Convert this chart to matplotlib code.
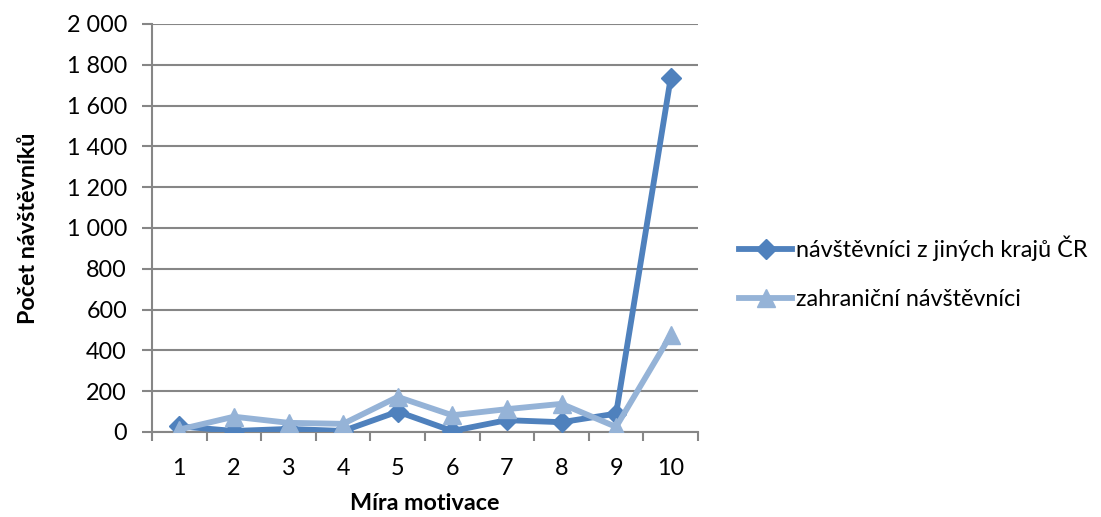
import numpy as np
import matplotlib
matplotlib.use('Agg')
import matplotlib.pyplot as plt
from matplotlib.ticker import FuncFormatter, FixedLocator

plt.rcParams['font.family'] = ['Lato', 'DejaVu Sans']

motivace = [1, 2, 3, 4, 5, 6, 7, 8, 9, 10]
z_jinych_kraju = [28, 5, 15, 5, 100, 5, 58, 48, 90, 1735]
zahranicni = [12, 75, 45, 40, 172, 82, 112, 138, 25, 475]

dark = '#4F81BD'
light = '#95B3D7'
grid_col = '#868686'
fs = 16.8

fig = plt.figure(figsize=(11.01, 5.17), dpi=100)
ax = fig.add_axes([152/1101, 85/517, 546/1101, 408/517])

x = np.array(motivace)
ax.plot(x, z_jinych_kraju, color=dark, lw=4.2, marker='D', ms=10,
        label='návštěvníci z jiných krajů ČR', zorder=3)
ax.plot(x, zahranicni, color=light, lw=4.2, marker='^', ms=13.5,
        label='zahraniční návštěvníci', zorder=4)

ax.set_xlim(0.5, 10.5)
ax.set_ylim(0, 2000)
ax.set_yticks(np.arange(0, 2001, 200))
ax.yaxis.set_major_formatter(FuncFormatter(lambda v, p: '{:,}'.format(int(v)).replace(',', ' ')))
ax.set_xticks(x)
ax.xaxis.set_minor_locator(FixedLocator(np.arange(0.5, 11, 1)))
ax.tick_params(axis='x', which='major', length=0, pad=19, labelsize=fs)
ax.tick_params(axis='x', which='minor', length=6.5, width=1.5, color=grid_col)
ax.tick_params(axis='y', length=7, width=1.5, color=grid_col, pad=11, labelsize=fs)

ax.grid(axis='y', color=grid_col, lw=1.5)
ax.set_axisbelow(True)
for s in ['top', 'right']:
    ax.spines[s].set_visible(False)
for s in ['left', 'bottom']:
    ax.spines[s].set_color(grid_col)
    ax.spines[s].set_linewidth(1.5)

ax.set_xlabel('Míra motivace', fontsize=fs, fontweight='bold', labelpad=10)
ax.set_ylabel('Počet návštěvníků', fontsize=fs, fontweight='bold', labelpad=20)

fig.legend(loc='center left', bbox_to_anchor=(727/1101, 1 - 273/517), frameon=False,
           fontsize=fs, handlelength=2.3, handletextpad=0.15, labelspacing=1.2,
           borderpad=0)

fig.savefig('out.png', dpi=100)
